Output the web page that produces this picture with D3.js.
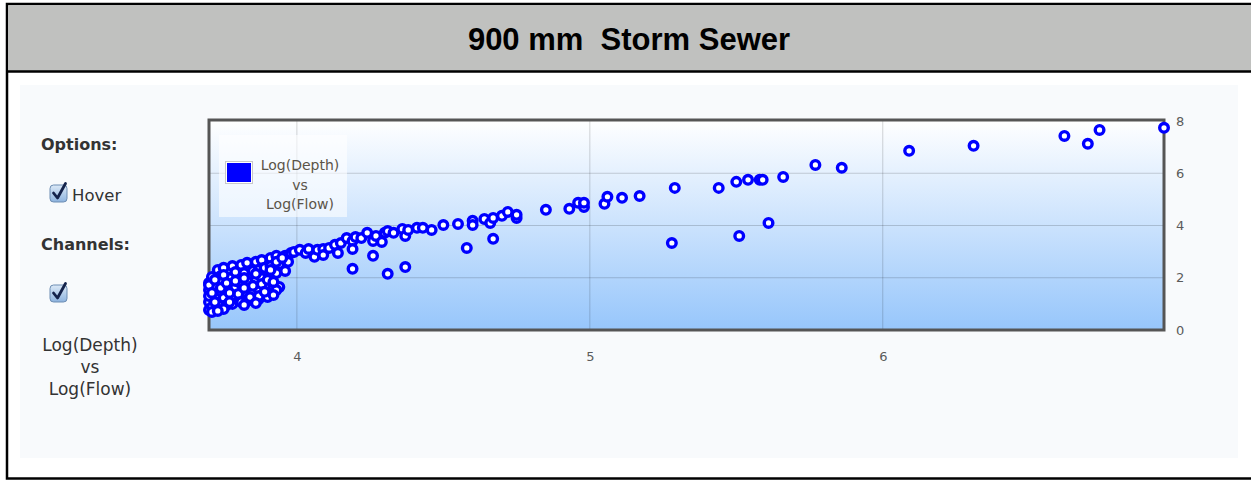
<!DOCTYPE html>
<html>
<head>
<meta charset="utf-8">
<script src="https://cdn.jsdelivr.net/npm/d3@7"></script>
<style>
  body { margin: 0; background: white; }
</style>
</head>
<body>
<div id="tablier"></div>
<script>
/* Données du graphique : Log(Depth) en fonction de Log(Flow) */
const titre = "900 mm\u00a0 Storm Sewer";
const ticks_x = [4, 5, 6];
const ticks_y = [0, 2, 4, 6, 8];
const legende = ["Log(Depth)", "vs", "Log(Flow)"];
const domaine_x = [3.70, 6.96];
const domaine_y = [0, 8];

// [Log(Flow), Log(Depth)]
const points = [
    // amas dense à gauche
    [3.70,1.80],[3.71,2.03],[3.73,2.30],[3.74,2.07],[3.75,2.38],[3.78,2.45],[3.81,2.49],[3.83,2.57],
    [3.86,2.61],[3.88,2.68],[3.91,2.76],[3.93,2.84],[3.96,2.84],[3.98,2.95],[3.99,2.99],
    [3.70,1.53],[3.72,1.72],[3.74,1.84],[3.77,1.99],[3.80,2.07],[3.82,2.18],[3.85,2.26],[3.87,2.30],
    [3.89,2.38],[3.91,2.45],[3.94,2.53],[3.97,2.61],[3.96,2.26],
    [3.71,1.30],[3.74,1.46],[3.76,1.57],[3.79,1.65],[3.81,1.76],[3.84,1.84],[3.86,1.92],[3.88,1.99],
    [3.91,2.07],[3.93,2.18],
    [3.70,1.07],[3.73,1.19],[3.75,1.23],[3.78,1.30],[3.80,1.38],[3.83,1.42],[3.85,1.49],[3.87,1.53],
    [3.90,1.61],[3.92,1.65],[3.94,1.65],[3.93,1.53],
    [3.70,0.77],[3.71,0.88],[3.74,0.92],[3.76,0.96],[3.78,1.00],[3.81,1.07],[3.83,1.11],[3.85,1.15],
    [3.87,1.19],[3.90,1.26],[3.92,1.34],
    [3.70,1.30],[3.70,1.72],[3.71,1.42],[3.72,1.92],[3.74,1.61],[3.75,2.11],[3.76,1.80],[3.77,1.42],
    [3.79,2.22],[3.79,1.88],[3.82,1.61],[3.82,1.99],[3.84,1.26],[3.85,1.69],[3.86,2.15],[3.87,1.30],
    [3.88,1.76],[3.89,1.46],[3.90,1.92],[3.91,2.30],[3.92,1.84],[3.93,2.61],[3.95,2.76],[3.72,1.07],
    [3.75,0.80],[3.77,1.07],[3.71,0.69],[3.73,0.73],[3.82,0.96],[3.86,1.03],
    // branche principale
    [4.01,3.07],[4.03,2.95],[4.04,3.10],[4.06,2.80],[4.07,3.07],[4.09,3.10],[4.09,2.87],[4.11,3.14],
    [4.13,3.26],[4.14,2.95],[4.15,3.33],[4.17,3.52],[4.19,3.41],[4.19,3.10],[4.20,3.56],[4.22,3.52],
    [4.24,3.72],[4.26,3.41],[4.27,3.60],[4.29,3.37],[4.30,3.72],[4.31,3.79],[4.33,3.72],[4.36,3.87],
    [4.37,3.60],[4.38,3.83],[4.41,3.91],[4.43,3.91],[4.46,3.83],[4.50,4.02],[4.55,4.06],[4.60,4.18],
    [4.60,4.02],[4.64,4.25],[4.66,4.10],[4.67,4.29],[4.70,4.37],[4.72,4.52],[4.75,4.29],[4.75,4.41],
    [4.85,4.60],[4.93,4.64],[4.96,4.87],[4.98,4.71],[4.98,4.87],[5.05,4.83],[5.06,5.10],[5.11,5.06],
    [5.17,5.13],[5.29,5.44],[5.44,5.44],[5.50,5.67],[5.54,5.75],[5.58,5.75],[5.59,5.75],[5.66,5.86],
    [5.77,6.32],[5.86,6.21],[6.09,6.86],[6.31,7.05],[6.62,7.43],[6.70,7.13],[6.74,7.66],[6.96,7.74],
    // points isolés sous la branche
    [4.19,2.34],[4.31,2.15],[4.37,2.41],[4.26,2.84],[4.58,3.14],[4.67,3.49],[5.28,3.33],[5.51,3.60],
    [5.61,4.10]
];

/* Dimensions */
const largeur = 1251, hauteur = 481;
const zone = {gauche: 209, droite: 1164, haut: 120, bas: 330};

const svg = d3.select("#tablier").append("svg")
    .attr("width", largeur)
    .attr("height", hauteur);

/* Dégradés */
const defs = svg.append("defs");
const degrade = defs.append("linearGradient").attr("id", "fond").attr("x1", 0).attr("y1", 0).attr("x2", 0).attr("y2", 1);
degrade.append("stop").attr("offset", "0%").attr("stop-color", "#ffffff");
degrade.append("stop").attr("offset", "100%").attr("stop-color", "#97c6fb");

const degrade_case = defs.append("linearGradient").attr("id", "case").attr("x1", 0).attr("y1", 0).attr("x2", 0).attr("y2", 1);
degrade_case.append("stop").attr("offset", "0%").attr("stop-color", "#dce9f7");
degrade_case.append("stop").attr("offset", "100%").attr("stop-color", "#8db3de");

/* Cadre et bandeau de titre */
svg.append("rect")
    .attr("x", 7).attr("y", 4)
    .attr("width", largeur + 10).attr("height", 474.5)
    .attr("fill", "white")
    .attr("stroke", "black")
    .attr("stroke-width", 2.5);

svg.append("rect")
    .attr("x", 8.25).attr("y", 5.25)
    .attr("width", largeur).attr("height", 66)
    .attr("fill", "#c0c1bf");

svg.append("line")
    .attr("x1", 7).attr("x2", largeur)
    .attr("y1", 71.5).attr("y2", 71.5)
    .attr("stroke", "black")
    .attr("stroke-width", 2.5);

svg.append("text")
    .attr("x", 629).attr("y", 50)
    .attr("text-anchor", "middle")
    .attr("font-family", "Liberation Sans, Arial, sans-serif")
    .attr("font-weight", "bold")
    .attr("font-size", 31)
    .attr("fill", "black")
    .text(titre);

// Panneau intérieur légèrement grisé
svg.append("rect")
    .attr("x", 20).attr("y", 85)
    .attr("width", 1218).attr("height", 373)
    .attr("fill", "#f8fafc");

/* Panneau des options à gauche */
const police_panneau = "DejaVu Sans, Verdana, sans-serif";

function caseCochee(x, y) {
    let g = svg.append("g").attr("transform", "translate(" + x + "," + y + ")");
    g.append("rect")
        .attr("width", 17).attr("height", 17).attr("rx", 3.5)
        .attr("fill", "url(#case)")
        .attr("stroke", "#6d8db3")
        .attr("stroke-width", 1);
    g.append("path")
        .attr("d", "M3.5,8 L7.5,13 L15.5,-1.5")
        .attr("fill", "none")
        .attr("stroke", "#14224a")
        .attr("stroke-width", 2.8)
        .attr("stroke-linecap", "round")
        .attr("stroke-linejoin", "round");
}

svg.append("text").attr("x", 41).attr("y", 150)
    .attr("font-family", police_panneau).attr("font-weight", "bold").attr("font-size", 16)
    .attr("fill", "#333").text("Options:");
caseCochee(50, 185);
svg.append("text").attr("x", 72).attr("y", 201)
    .attr("font-family", police_panneau).attr("font-size", 16.5)
    .attr("fill", "#333").text("Hover");
svg.append("text").attr("x", 41).attr("y", 250)
    .attr("font-family", police_panneau).attr("font-weight", "bold").attr("font-size", 16)
    .attr("fill", "#333").text("Channels:");
caseCochee(50, 285);
legende.forEach((ligne, i) => {
    svg.append("text")
        .attr("x", 90).attr("y", 351 + i*22)
        .attr("text-anchor", "middle")
        .attr("font-family", police_panneau).attr("font-size", 17)
        .attr("fill", "#333")
        .text(ligne);
});

/* Échelles */
const x = d3.scaleLinear().domain(domaine_x).range([zone.gauche, zone.droite]);
const y = d3.scaleLinear().domain(domaine_y).range([zone.bas, zone.haut + 1]);

// Fond en dégradé
svg.append("rect")
    .attr("x", zone.gauche).attr("y", zone.haut)
    .attr("width", zone.droite - zone.gauche).attr("height", zone.bas - zone.haut)
    .attr("fill", "url(#fond)");

// Grille
svg.append("g")
    .selectAll("line").data(ticks_x).join("line")
    .attr("x1", d => x(d)).attr("x2", d => x(d))
    .attr("y1", zone.haut).attr("y2", zone.bas)
    .attr("stroke", "#000").attr("stroke-opacity", 0.17);
svg.append("g")
    .selectAll("line").data(ticks_y.slice(1, -1)).join("line")
    .attr("x1", zone.gauche).attr("x2", zone.droite)
    .attr("y1", d => y(d)).attr("y2", d => y(d))
    .attr("stroke", "#000").attr("stroke-opacity", 0.17);

// Axes (seulement les étiquettes, pas de traits)
const axe_x = svg.append("g")
    .attr("transform", "translate(0," + (zone.bas + 19) + ")")
    .call(d3.axisBottom(x).tickValues(ticks_x).tickSize(0).tickFormat(d3.format("d")));
const axe_y = svg.append("g")
    .attr("transform", "translate(" + (zone.droite + 9) + ",0)")
    .call(d3.axisRight(y).tickValues(ticks_y).tickSize(0).tickFormat(d3.format("d")));
[axe_x, axe_y].forEach(axe => {
    axe.select(".domain").remove();
    axe.selectAll("text")
        .attr("font-family", police_panneau)
        .attr("font-size", 13)
        .attr("fill", "#5a5a5a");
});

// Bordure de la zone de tracé
svg.append("rect")
    .attr("x", zone.gauche).attr("y", zone.haut)
    .attr("width", zone.droite - zone.gauche).attr("height", zone.bas - zone.haut)
    .attr("fill", "none")
    .attr("stroke", "#555")
    .attr("stroke-width", 3);

/* Légende */
const g_legende = svg.append("g");
g_legende.append("rect")
    .attr("x", 219).attr("y", 135).attr("width", 128).attr("height", 82)
    .attr("fill", "white").attr("fill-opacity", 0.6);
g_legende.append("rect")
    .attr("x", 225.5).attr("y", 161.5).attr("width", 27).attr("height", 22)
    .attr("fill", "white").attr("stroke", "#c8c8c8");
g_legende.append("rect")
    .attr("x", 227).attr("y", 163).attr("width", 24).attr("height", 19)
    .attr("fill", "#0000ff");
legende.forEach((ligne, i) => {
    g_legende.append("text")
        .attr("x", 300).attr("y", 170 + i*19.5)
        .attr("text-anchor", "middle")
        .attr("font-family", police_panneau).attr("font-size", 14)
        .attr("fill", "#5b5448")
        .text(ligne);
});

/* Points */
svg.append("g")
    .selectAll("circle").data(points).join("circle")
    .attr("cx", d => x(d[0]))
    .attr("cy", d => y(d[1]))
    .attr("r", 4.3)
    .attr("fill", "white")
    .attr("stroke", "#0000ff")
    .attr("stroke-width", 3.4);
</script>
</body>
</html>
